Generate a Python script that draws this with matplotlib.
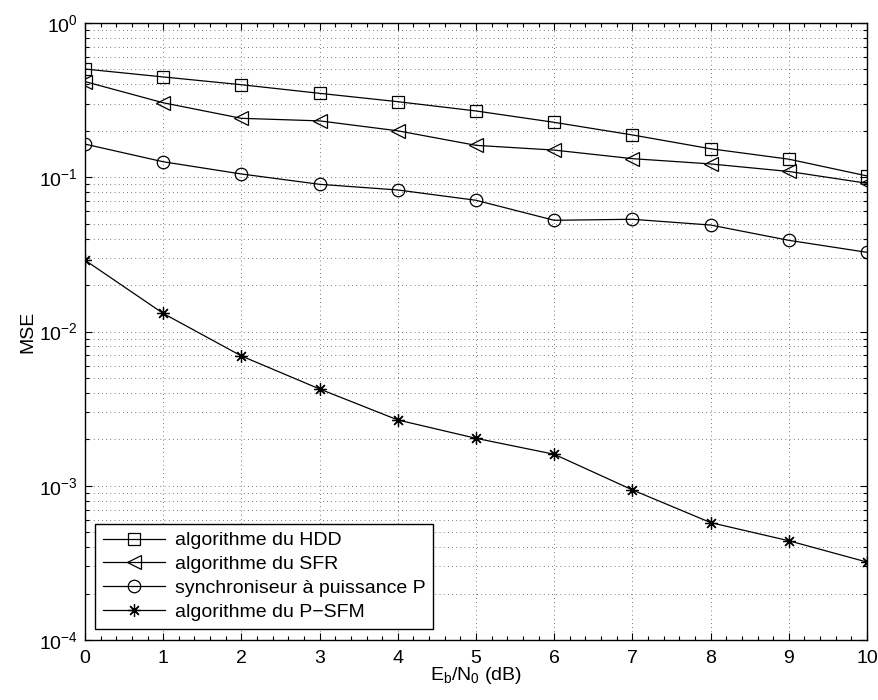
import matplotlib
matplotlib.use("Agg")
import matplotlib.pyplot as plt
from matplotlib.ticker import LogLocator, MultipleLocator, NullFormatter

plt.rcParams['font.family'] = ['Liberation Sans', 'DejaVu Sans']
plt.rcParams['mathtext.default'] = 'regular'

ebn0 = [0, 1, 2, 3, 4, 5, 6, 7, 8, 9, 10]
mse_hdd = [0.503, 0.447, 0.398, 0.350, 0.309, 0.269, 0.227, 0.188, 0.153, 0.131, 0.102]
mse_sfr = [0.417, 0.304, 0.241, 0.232, 0.200, 0.161, 0.150, 0.132, 0.122, 0.109, 0.0914]
mse_sync = [0.164, 0.126, 0.105, 0.090, 0.0827, 0.0709, 0.0526, 0.0534, 0.0490, 0.039, 0.0326]
mse_psfm = [0.0290, 0.0131, 0.00694, 0.00424, 0.00267, 0.00203, 0.00160, 0.00094, 0.000577, 0.00044, 0.00032]
labels = ["algorithme du HDD", "algorithme du SFR",
          "synchroniseur à puissance P", "algorithme du P\u2212SFM"]

fig = plt.figure(figsize=(8.79, 7.0), dpi=100)
ax = fig.add_axes([85/879, 1-640/700, 782/879, 617/700])

lw = 0.9
ax.semilogy(ebn0, mse_hdd, 'k-', marker='s', markersize=8, markerfacecolor='none', lw=lw, mew=0.9, label=labels[0])
ax.semilogy(ebn0, mse_sfr, 'k-', marker='<', markersize=10, markerfacecolor='none', lw=lw, mew=0.9, label=labels[1])
ax.semilogy(ebn0, mse_sync, 'k-', marker='o', markersize=9, markerfacecolor='none', lw=lw, mew=0.9, label=labels[2])
ax.semilogy(ebn0, mse_psfm, 'k-', marker=(8, 2, 0), markersize=9, lw=lw, mew=0.9, label=labels[3])

ax.set_xlim(0, 10)
ax.set_ylim(1e-4, 1e0)
ax.xaxis.set_major_locator(MultipleLocator(1))
ax.xaxis.set_minor_locator(MultipleLocator(0.2))
ax.yaxis.set_major_locator(LogLocator(base=10, numticks=10))
ax.yaxis.set_minor_locator(LogLocator(base=10, subs=range(2, 10), numticks=20))
ax.yaxis.set_minor_formatter(NullFormatter())

ax.tick_params(which='both', direction='in', top=True, right=True, labelsize=14, width=0.8)
ax.tick_params(which='major', length=5)
ax.tick_params(which='minor', length=3)
ax.tick_params(axis='x', which='major', pad=7)
ax.tick_params(axis='y', which='major', pad=5)

ax.grid(True, which='major', axis='x', linestyle=(0, (1, 5)), color='k', lw=0.5)
ax.grid(True, which='both', axis='y', linestyle=(0, (1, 5)), color='k', lw=0.5)

for s in ax.spines.values():
    s.set_linewidth(1.0)

ax.set_xlabel(r'E$_b$/N$_0$ (dB)', fontsize=14, labelpad=-1)
ax.set_ylabel('MSE', fontsize=14, labelpad=2)

leg = ax.legend(loc='upper left', bbox_to_anchor=((95-85)/782, (640-524)/617),
                borderaxespad=0, fontsize=14, handlelength=3.2, labelspacing=0.32,
                fancybox=False, framealpha=1, edgecolor='k', borderpad=0.4, handletextpad=0.5)
leg.get_frame().set_linewidth(1.0)

fig.savefig('out.png', dpi=100)
